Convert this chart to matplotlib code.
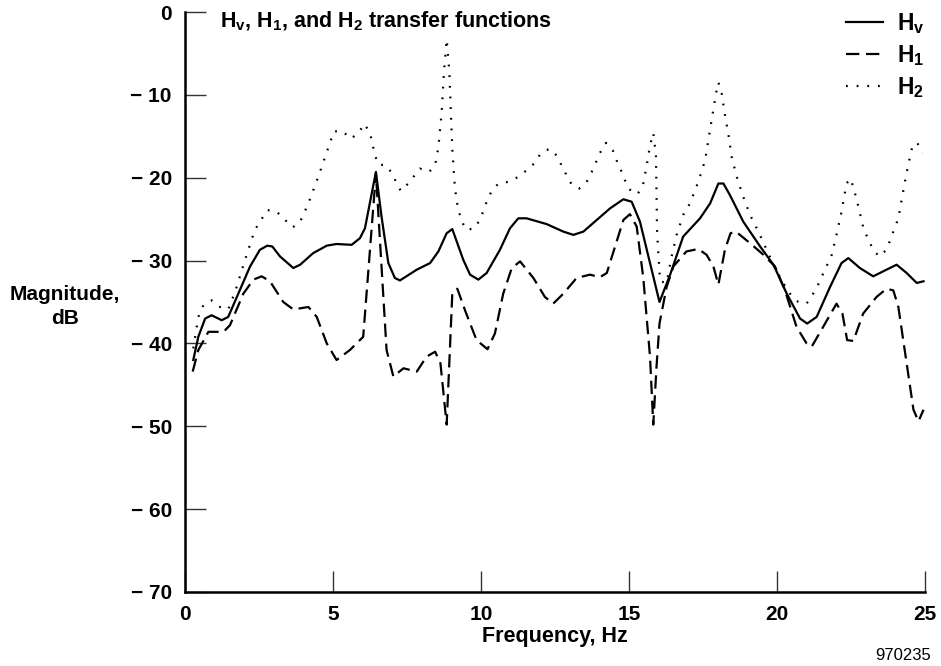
import matplotlib
matplotlib.use("Agg")
import matplotlib.pyplot as plt

plt.rcParams['font.family'] = ['Liberation Sans', 'DejaVu Sans']
plt.rcParams['font.weight'] = 'bold'
plt.rcParams['mathtext.fontset'] = 'custom'
plt.rcParams['mathtext.rm'] = 'Liberation Sans:bold'
plt.rcParams['mathtext.bf'] = 'Liberation Sans:bold'
plt.rcParams['mathtext.it'] = 'Liberation Sans:bold'

# Hv transfer function (solid)
hv_freq = [0.28, 0.45, 0.68, 0.90, 1.24, 1.46, 1.80, 2.20, 2.53, 2.78, 2.95, 3.21, 3.66, 3.89,
           4.33, 4.79, 5.12, 5.63, 5.91, 6.08, 6.45, 6.64, 6.87, 7.09, 7.26, 7.83, 8.28, 8.56,
           8.84, 9.03, 9.40, 9.63, 9.91, 10.19, 10.64, 10.98, 11.26, 11.54, 12.22, 12.78, 13.12,
           13.46, 13.91, 14.36, 14.81, 15.09, 15.37, 15.71, 16.03, 16.39, 16.83, 17.40, 17.74,
           18.02, 18.19, 18.41, 18.86, 19.43, 19.88, 20.33, 20.78, 21.02, 21.34, 21.79, 22.18,
           22.41, 22.80, 23.25, 23.70, 24.04, 24.38, 24.72, 24.95]
hv_db = [-42.0, -39.2, -37.0, -36.6, -37.2, -36.8, -34.0, -30.7, -28.7, -28.2, -28.3, -29.5, -30.9,
         -30.5, -29.1, -28.2, -28.0, -28.1, -27.3, -26.1, -19.3, -24.7, -30.3, -32.1, -32.4, -31.1,
         -30.3, -28.9, -26.7, -26.2, -29.9, -31.7, -32.3, -31.5, -28.7, -26.1, -24.9, -24.9, -25.6,
         -26.5, -26.9, -26.5, -25.1, -23.7, -22.6, -22.9, -25.3, -30.3, -35.0, -31.7, -27.1, -24.9,
         -23.1, -20.7, -20.7, -22.1, -25.3, -28.3, -30.5, -34.0, -37.0, -37.6, -36.8, -33.2, -30.3,
         -29.7, -30.9, -31.9, -31.1, -30.5, -31.5, -32.7, -32.5]

# H1 transfer function (dashed)
h1_freq = [0.26, 0.45, 0.79, 1.30, 1.52, 1.97, 2.31, 2.59, 2.87, 3.32, 3.66, 4.17, 4.45, 4.79,
           5.12, 5.57, 6.02, 6.45, 6.81, 7.04, 7.38, 7.83, 8.16, 8.45, 8.63, 8.84, 9.03, 9.20,
           9.46, 9.85, 10.22, 10.47, 10.75, 11.04, 11.32, 11.77, 12.16, 12.44, 12.78, 13.23,
           13.68, 14.02, 14.25, 14.53, 14.81, 15.03, 15.26, 15.48, 15.71, 15.82, 15.93, 16.03,
           16.27, 16.50, 16.94, 17.34, 17.62, 17.85, 18.02, 18.24, 18.43, 18.61, 19.09, 19.54,
           19.93, 20.27, 20.66, 21.00, 21.17, 21.56, 22.01, 22.21, 22.37, 22.58, 22.91, 23.36,
           23.70, 23.93, 24.10, 24.38, 24.61, 24.78, 24.95]
h1_db = [-43.4, -40.8, -38.6, -38.6, -37.8, -34.0, -32.3, -31.9, -32.5, -35.0, -35.9, -35.6, -36.8,
         -40.0, -42.0, -40.8, -39.2, -19.5, -40.8, -44.0, -43.0, -43.4, -41.6, -41.0, -42.4, -49.8,
         -34.0, -33.4, -36.0, -39.6, -40.7, -38.8, -34.0, -30.9, -30.1, -32.1, -34.4, -35.2, -34.0,
         -32.1, -31.7, -32.0, -31.5, -28.3, -25.1, -24.4, -25.9, -32.0, -41.6, -49.8, -42.8, -37.6,
         -33.2, -30.7, -28.9, -28.6, -29.3, -30.7, -32.9, -28.7, -26.7, -26.5, -27.9, -29.3, -30.7,
         -33.6, -38.0, -40.0, -40.4, -38.0, -35.2, -36.4, -39.6, -39.7, -36.4, -34.4, -33.4, -33.6,
         -35.6, -42.4, -48.0, -49.4, -48.0]

# H2 transfer function (dotted)
h2_freq = [0.28, 0.45, 0.62, 0.90, 1.18, 1.46, 1.69, 2.03, 2.36, 2.78,
           3.10, 3.38, 3.64, 3.89, 4.17, 4.56, 4.79, 5.03, 5.33, 5.60,
           5.86, 6.06, 6.25, 6.42, 6.53, 6.79, 6.98, 7.13, 7.29, 7.54,
           7.94, 8.25, 8.45, 8.56, 8.67, 8.75, 8.84, 8.93, 9.03, 9.12,
           9.23, 9.35, 9.46, 9.74, 9.97, 10.19, 10.36, 10.59, 10.92, 11.26,
           11.54, 11.82, 12.01, 12.31, 12.55, 12.72, 12.89, 13.06, 13.32, 13.57,
           13.74, 13.89, 14.02, 14.22, 14.45, 14.58, 14.73, 14.86, 15.01, 15.28,
           15.46, 15.60, 15.71, 15.82, 15.91, 15.95, 16.05, 16.27, 16.44, 16.61,
           16.83, 17.06, 17.34, 17.57, 17.71, 17.83, 17.94, 18.02, 18.13, 18.24,
           18.36, 18.47, 18.64, 18.86, 19.09, 19.37, 19.65, 19.93, 20.21, 20.44,
           20.72, 21.00, 21.22, 21.39, 21.62, 21.85, 22.01, 22.18, 22.35, 22.47,
           22.58, 22.75, 22.92, 23.09, 23.25, 23.45, 23.70, 23.93, 24.10, 24.21,
           24.32, 24.43, 24.58, 24.74, 24.92]
h2_db = [-40.6, -36.8, -35.4, -34.8, -35.6, -35.9, -33.8, -29.9, -26.3, -23.9,
         -24.1, -25.1, -26.0, -25.3, -23.1, -19.3, -16.9, -14.4, -14.4, -15.3,
         -14.6, -13.5, -14.6, -17.3, -18.4, -18.5, -19.4, -20.5, -21.6, -20.7,
         -18.9, -19.3, -18.5, -16.3, -12.2, -7.2, -3.3, -7.2, -16.5, -21.3,
         -23.9, -25.1, -26.2, -26.2, -25.1, -22.9, -21.6, -20.7, -20.5, -19.9,
         -19.1, -18.2, -17.1, -16.5, -17.3, -18.5, -19.7, -20.8, -21.3, -20.5,
         -19.3, -18.1, -17.0, -15.8, -16.7, -17.9, -19.1, -20.3, -21.4, -22.0,
         -21.1, -18.5, -16.1, -14.6, -17.3, -26.7, -32.5, -32.7, -29.5, -26.9,
         -24.5, -23.1, -20.5, -17.9, -14.8, -12.2, -9.8, -8.5, -9.8, -12.4,
         -14.8, -17.5, -19.9, -22.3, -24.5, -26.5, -28.7, -30.9, -32.7, -34.0,
         -35.0, -35.2, -34.0, -32.9, -31.1, -29.3, -26.9, -24.1, -20.7, -20.1,
         -21.1, -23.5, -26.1, -27.5, -28.7, -29.5, -28.7, -26.5, -24.9, -22.7,
         -20.5, -18.5, -16.1, -15.8, -17.0]

x_ticks = [0, 5, 10, 15, 20, 25]
y_ticks = [0, -10, -20, -30, -40, -50, -60, -70]
y_tick_labels = ['0', '\u2212 10', '\u2212 20', '\u2212 30', '\u2212 40', '\u2212 50', '\u2212 60', '\u2212 70']

fig = plt.figure(figsize=(9.41, 6.66), dpi=100)
ax = fig.add_axes([185 / 941, 1 - 592 / 666, 740 / 941, 580 / 666])

ax.plot(hv_freq, hv_db, color='black', lw=1.6, label=r'$\mathbf{H_v}$')
ax.plot(h1_freq, h1_db, color='black', lw=1.6, dashes=(6, 3), label=r'$\mathbf{H_1}$')
ax.plot(h2_freq, h2_db, color='black', lw=1.6, dashes=(0.8, 4), label=r'$\mathbf{H_2}$')

ax.set_xlim(0, 25)
ax.set_ylim(-70, 0)
ax.set_xticks(x_ticks)
ax.set_xticklabels([str(t) for t in x_ticks])
ax.set_yticks(y_ticks)
ax.set_yticklabels(y_tick_labels)

for side in ['top', 'right']:
    ax.spines[side].set_visible(False)
for side in ['left', 'bottom']:
    ax.spines[side].set_linewidth(1.8)
ax.tick_params(direction='in', length=15, width=1, color='#333333', labelsize=15)
ax.tick_params(axis='y', pad=9.5)
ax.tick_params(axis='x', pad=9)

ax.set_xlabel('Frequency, Hz', fontsize=15.5, fontweight='bold')
ax.xaxis.set_label_coords(0.5, -0.058)
ax.set_ylabel('Magnitude,\ndB', fontsize=15, fontweight='bold', rotation=0,
              ha='center', va='center', multialignment='center', linespacing=1.35)
ax.yaxis.set_label_coords(-0.162, 0.492)

ax.text(0.047, 1.003, r'$\mathbf{H_v}$, $\mathbf{H_1}$, and $\mathbf{H_2}$ transfer functions',
        transform=ax.transAxes, fontsize=15.5, fontweight='bold', ha='left', va='top')

ax.legend(loc='upper right', bbox_to_anchor=(1.0, 1.001), frameon=False, fontsize=16.5,
          handlelength=1.6, handletextpad=0.65, labelspacing=0.3,
          borderpad=0, borderaxespad=0)

fig.text(903 / 941, 1 - 655 / 666, '970235', fontsize=12, fontweight='normal',
         ha='center', va='center')

fig.savefig('out.png', dpi=100)
